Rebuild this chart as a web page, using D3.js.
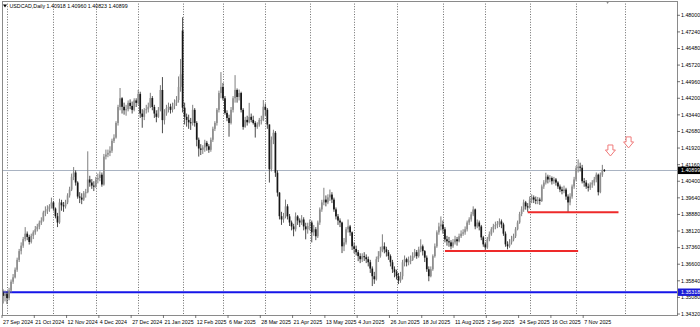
<!DOCTYPE html>
<html><head><meta charset="utf-8">
<script src="https://cdn.jsdelivr.net/npm/d3@7"></script>
<style>html,body{margin:0;padding:0;background:#fff;}svg{display:block;font-family:"Liberation Sans",Arial,sans-serif;}</style>
</head><body><svg id="c" width="700" height="327"></svg>
<script>
const symbol = "USDCAD,Daily";
const firstDate = "2024-09-27";
const holidays = ["2024-12-25", "2025-01-01"];

const open = [
1.3530,1.3515,1.3525,1.3505,1.3540,1.3580,1.3600,1.3635,1.3680,1.3720,
1.3745,1.3775,1.3800,1.3785,1.3762,1.3790,1.3806,1.3820,1.3832,1.3850,
1.3860,1.3897,1.3905,1.3912,1.3925,1.3943,1.3915,1.3880,1.3851,1.3943,
1.3930,1.3925,1.3943,1.3975,1.4002,1.4060,1.4080,1.4034,1.3970,1.3965,
1.3956,1.3985,1.3990,1.4048,1.4034,1.4020,1.4016,1.4048,1.4055,1.4070,
1.4025,1.4153,1.4162,1.4170,1.4180,1.4225,1.4240,1.4307,1.4380,1.4420,
1.4381,1.4365,1.4370,1.4399,1.4385,1.4367,1.4410,1.4399,1.4440,1.4350,
1.4335,1.4365,1.4370,1.4381,1.4421,1.4380,1.4350,1.4335,1.4367,1.4458,
1.4320,1.4350,1.4375,1.4381,1.4367,1.4385,1.4399,1.4412,1.4472,1.4730,
1.4377,1.4335,1.4321,1.4310,1.4307,1.4367,1.4307,1.4230,1.4190,1.4184,
1.4195,1.4216,1.4200,1.4184,1.4230,1.4280,1.4307,1.4367,1.4444,1.4472,
1.4420,1.4353,1.4330,1.4307,1.4367,1.4420,1.4458,1.4426,1.4444,1.4367,
1.4289,1.4321,1.4310,1.4335,1.4321,1.4307,1.4289,1.4300,1.4321,1.4321,
1.4381,1.4367,1.4300,1.4095,1.4230,1.4262,1.4079,1.3988,1.3880,1.3865,
1.3879,1.3925,1.3879,1.3851,1.3833,1.3820,1.3879,1.3860,1.3851,1.3865,
1.3833,1.3820,1.3835,1.3851,1.3806,1.3820,1.3788,1.3851,1.3911,1.3943,
1.3956,1.3943,1.3966,1.3979,1.3956,1.3911,1.3879,1.3860,1.3851,1.3742,
1.3760,1.3820,1.3833,1.3806,1.3742,1.3730,1.3715,1.3697,1.3683,1.3697,
1.3692,1.3683,1.3669,1.3640,1.3605,1.3591,1.3683,1.3697,1.3720,1.3742,
1.3728,1.3715,1.3697,1.3669,1.3637,1.3623,1.3605,1.3585,1.3605,1.3669,
1.3683,1.3669,1.3674,1.3680,1.3697,1.3715,1.3697,1.3728,1.3742,1.3720,
1.3690,1.3637,1.3605,1.3637,1.3697,1.3742,1.3806,1.3833,1.3842,1.3820,
1.3774,1.3765,1.3760,1.3742,1.3760,1.3774,1.3765,1.3788,1.3800,1.3806,
1.3820,1.3851,1.3865,1.3888,1.3911,1.3833,1.3851,1.3833,1.3783,1.3751,
1.3737,1.3774,1.3797,1.3820,1.3833,1.3840,1.3845,1.3856,1.3842,1.3800,
1.3751,1.3742,1.3760,1.3774,1.3788,1.3820,1.3851,1.3890,1.3911,1.3943,
1.3925,1.3920,1.3956,1.3966,1.3956,1.3950,1.3956,1.3950,1.4016,1.4034,
1.4061,1.4048,1.4055,1.4040,1.4048,1.4034,1.4016,1.4002,1.3995,1.4002,
1.3970,1.3943,1.3970,1.4016,1.4048,1.4100,1.4107,1.4102,1.4040,1.4034,
1.4016,1.4010,1.4025,1.4034,1.4048,1.4070,1.3990,1.4070,1.40918];

const high = [
1.3545,1.3540,1.3535,1.3552,1.3590,1.3615,1.3645,1.3690,1.3730,1.3760,
1.3785,1.3830,1.3810,1.3795,1.3800,1.3815,1.3835,1.3845,1.3860,1.3875,
1.3905,1.3925,1.3930,1.3935,1.3965,1.3950,1.3920,1.3895,1.3960,1.3955,
1.3945,1.3955,1.3985,1.4015,1.4075,1.4105,1.4090,1.4040,1.3990,1.3985,
1.3995,1.4005,1.4177,1.4065,1.4050,1.4040,1.4060,1.4075,1.4085,1.4080,
1.4165,1.4185,1.4185,1.4200,1.4235,1.4255,1.4315,1.4390,1.4467,1.4425,
1.4400,1.4390,1.4410,1.4415,1.4405,1.4420,1.4420,1.4458,1.4450,1.4370,
1.4375,1.4390,1.4400,1.4445,1.4430,1.4390,1.4365,1.4380,1.4480,1.4517,
1.4370,1.4390,1.4400,1.4395,1.4400,1.4415,1.4430,1.4520,1.4600,1.4791,
1.4400,1.4350,1.4345,1.4330,1.4390,1.4375,1.4315,1.4240,1.4210,1.4205,
1.4230,1.4225,1.4210,1.4240,1.4290,1.4315,1.4375,1.4455,1.4540,1.4490,
1.4430,1.4365,1.4345,1.4380,1.4430,1.4526,1.4465,1.4460,1.4450,1.4375,
1.4335,1.4340,1.4399,1.4350,1.4340,1.4315,1.4310,1.4330,1.4340,1.4412,
1.4395,1.4375,1.4300,1.4245,1.4276,1.4270,1.4090,1.3990,1.3900,1.3895,
1.3956,1.3935,1.3890,1.3860,1.3845,1.3897,1.3885,1.3870,1.3885,1.3875,
1.3850,1.3850,1.3865,1.3860,1.3840,1.3830,1.3860,1.3920,1.3955,1.4010,
1.3975,1.3980,1.4002,1.3990,1.3965,1.3920,1.3890,1.3870,1.3855,1.3780,
1.3830,1.3865,1.3840,1.3810,1.3760,1.3745,1.3725,1.3710,1.3710,1.3715,
1.3705,1.3695,1.3680,1.3650,1.3625,1.3695,1.3720,1.3740,1.3797,1.3760,
1.3740,1.3725,1.3705,1.3680,1.3650,1.3635,1.3620,1.3625,1.3680,1.3700,
1.3690,1.3695,1.3700,1.3715,1.3730,1.3725,1.3740,1.3774,1.3750,1.3725,
1.3700,1.3650,1.3650,1.3705,1.3755,1.3815,1.3850,1.3879,1.3860,1.3830,
1.3790,1.3785,1.3770,1.3775,1.3790,1.3785,1.3800,1.3815,1.3820,1.3833,
1.3860,1.3875,1.3900,1.3925,1.3915,1.3865,1.3860,1.3840,1.3790,1.3760,
1.3785,1.3810,1.3830,1.3845,1.3855,1.3858,1.3870,1.3865,1.3850,1.3810,
1.3765,1.3775,1.3790,1.3800,1.3830,1.3860,1.3900,1.3925,1.3956,1.3950,
1.3940,1.3970,1.3980,1.3975,1.3970,1.3968,1.3965,1.4025,1.4045,1.4079,
1.4070,1.4068,1.4062,1.4060,1.4055,1.4040,1.4025,1.4015,1.4020,1.4010,
1.3980,1.3985,1.4025,1.4060,1.4110,1.4140,1.4125,1.4115,1.4055,1.4045,
1.4030,1.4035,1.4045,1.4060,1.4080,1.4075,1.4080,1.4115,1.40960];

const low = [
1.3480,1.3490,1.3478,1.3495,1.3530,1.3570,1.3595,1.3625,1.3670,1.3705,
1.3735,1.3765,1.3770,1.3750,1.3755,1.3775,1.3795,1.3810,1.3820,1.3840,
1.3855,1.3880,1.3890,1.3900,1.3915,1.3905,1.3870,1.3830,1.3845,1.3905,
1.3900,1.3915,1.3935,1.3965,1.3995,1.4045,1.4020,1.3960,1.3940,1.3935,
1.3950,1.3965,1.3985,1.4015,1.4005,1.3995,1.4010,1.4030,1.4040,1.4015,
1.4020,1.4140,1.4150,1.4155,1.4170,1.4215,1.4235,1.4295,1.4365,1.4350,
1.4345,1.4340,1.4360,1.4370,1.4350,1.4360,1.4380,1.4390,1.4330,1.4285,
1.4320,1.4350,1.4355,1.4375,1.4365,1.4330,1.4310,1.4330,1.4360,1.4260,
1.4300,1.4340,1.4355,1.4350,1.4355,1.4370,1.4385,1.4400,1.4450,1.4355,
1.4300,1.4290,1.4280,1.4275,1.4295,1.4290,1.4200,1.4153,1.4160,1.4165,
1.4175,1.4180,1.4170,1.4175,1.4220,1.4270,1.4295,1.4355,1.4420,1.4410,
1.4345,1.4315,1.4244,1.4300,1.4355,1.4400,1.4400,1.4410,1.4355,1.4276,
1.4285,1.4295,1.4305,1.4310,1.4300,1.4240,1.4280,1.4290,1.4300,1.4315,
1.4340,1.4280,1.4034,1.4085,1.4210,1.4060,1.3970,1.3865,1.3840,1.3850,
1.3870,1.3865,1.3835,1.3815,1.3788,1.3810,1.3840,1.3830,1.3840,1.3815,
1.3774,1.3800,1.3815,1.3760,1.3790,1.3770,1.3780,1.3840,1.3900,1.3930,
1.3925,1.3935,1.3950,1.3940,1.3900,1.3865,1.3840,1.3830,1.3711,1.3720,
1.3750,1.3805,1.3790,1.3725,1.3710,1.3700,1.3674,1.3665,1.3670,1.3675,
1.3665,1.3650,1.3620,1.3560,1.3570,1.3585,1.3670,1.3690,1.3715,1.3710,
1.3695,1.3680,1.3650,1.3620,1.3600,1.3590,1.3569,1.3575,1.3590,1.3650,
1.3650,1.3655,1.3660,1.3675,1.3690,1.3685,1.3690,1.3715,1.3700,1.3670,
1.3625,1.3582,1.3600,1.3630,1.3690,1.3735,1.3795,1.3815,1.3800,1.3760,
1.3745,1.3740,1.3728,1.3735,1.3750,1.3745,1.3760,1.3780,1.3790,1.3795,
1.3810,1.3840,1.3855,1.3880,1.3820,1.3825,1.3815,1.3770,1.3740,1.3724,
1.3730,1.3765,1.3790,1.3805,1.3820,1.3825,1.3830,1.3825,1.3790,1.3740,
1.3728,1.3735,1.3750,1.3765,1.3780,1.3815,1.3845,1.3880,1.3900,1.3910,
1.3900,1.3915,1.3940,1.3940,1.3935,1.3935,1.3932,1.3945,1.4005,1.4025,
1.4030,1.4035,1.4025,1.4028,1.4020,1.4005,1.3990,1.3980,1.3985,1.3955,
1.3897,1.3930,1.3960,1.4005,1.4040,1.4080,1.4085,1.4030,1.4015,1.4005,
1.3993,1.4000,1.4010,1.4020,1.4035,1.3975,1.3985,1.4060,1.40823];

const close = [
1.3515,1.3525,1.3505,1.3540,1.3580,1.3600,1.3635,1.3680,1.3720,1.3745,
1.3775,1.3800,1.3785,1.3762,1.3790,1.3806,1.3820,1.3832,1.3850,1.3860,
1.3897,1.3905,1.3912,1.3925,1.3943,1.3915,1.3880,1.3851,1.3943,1.3930,
1.3925,1.3943,1.3975,1.4002,1.4060,1.4080,1.4034,1.3970,1.3965,1.3956,
1.3985,1.3990,1.4048,1.4034,1.4020,1.4016,1.4048,1.4055,1.4070,1.4025,
1.4153,1.4162,1.4170,1.4180,1.4225,1.4240,1.4307,1.4380,1.4420,1.4381,
1.4365,1.4370,1.4399,1.4385,1.4367,1.4410,1.4399,1.4440,1.4350,1.4335,
1.4365,1.4370,1.4381,1.4421,1.4380,1.4350,1.4335,1.4367,1.4458,1.4320,
1.4350,1.4375,1.4381,1.4367,1.4385,1.4399,1.4412,1.4472,1.4530,1.4377,
1.4335,1.4321,1.4310,1.4307,1.4367,1.4307,1.4230,1.4190,1.4184,1.4195,
1.4216,1.4200,1.4184,1.4230,1.4280,1.4307,1.4367,1.4444,1.4472,1.4420,
1.4353,1.4330,1.4307,1.4367,1.4420,1.4458,1.4426,1.4444,1.4367,1.4289,
1.4321,1.4310,1.4335,1.4321,1.4307,1.4289,1.4300,1.4321,1.4321,1.4381,
1.4367,1.4300,1.4095,1.4230,1.4262,1.4079,1.3988,1.3880,1.3865,1.3879,
1.3925,1.3879,1.3851,1.3833,1.3820,1.3879,1.3860,1.3851,1.3865,1.3833,
1.3820,1.3835,1.3851,1.3806,1.3820,1.3788,1.3851,1.3911,1.3943,1.3956,
1.3943,1.3966,1.3979,1.3956,1.3911,1.3879,1.3860,1.3851,1.3742,1.3760,
1.3820,1.3833,1.3806,1.3742,1.3730,1.3715,1.3697,1.3683,1.3697,1.3692,
1.3683,1.3669,1.3640,1.3605,1.3591,1.3683,1.3697,1.3720,1.3742,1.3728,
1.3715,1.3697,1.3669,1.3637,1.3623,1.3605,1.3585,1.3605,1.3669,1.3683,
1.3669,1.3674,1.3680,1.3697,1.3715,1.3697,1.3728,1.3742,1.3720,1.3690,
1.3637,1.3605,1.3637,1.3697,1.3742,1.3806,1.3833,1.3842,1.3820,1.3774,
1.3765,1.3760,1.3742,1.3760,1.3774,1.3765,1.3788,1.3800,1.3806,1.3820,
1.3851,1.3865,1.3888,1.3911,1.3833,1.3851,1.3833,1.3783,1.3751,1.3737,
1.3774,1.3797,1.3820,1.3833,1.3840,1.3845,1.3856,1.3842,1.3800,1.3751,
1.3742,1.3760,1.3774,1.3788,1.3820,1.3851,1.3890,1.3911,1.3943,1.3925,
1.3920,1.3956,1.3966,1.3956,1.3950,1.3956,1.3950,1.4016,1.4034,1.4061,
1.4048,1.4055,1.4040,1.4048,1.4034,1.4016,1.4002,1.3995,1.4002,1.3970,
1.3943,1.3970,1.4016,1.4048,1.4100,1.4107,1.4102,1.4040,1.4034,1.4016,
1.4010,1.4025,1.4034,1.4048,1.4070,1.3990,1.4070,1.4092,1.40899];

const priceTickLabels = ["1.48000","1.47240","1.46480","1.45720","1.44960","1.44200","1.43440","1.42680","1.41920","1.41160","1.40400","1.39640","1.38880","1.38120","1.37360","1.36600","1.35840","1.35080","1.34320"];
const dateTickLabels = ["27 Sep 2024","21 Oct 2024","12 Nov 2024","4 Dec 2024","27 Dec 2024","21 Jan 2025","12 Feb 2025","6 Mar 2025","28 Mar 2025","21 Apr 2025","13 May 2025","4 Jun 2025","26 Jun 2025","18 Jul 2025","11 Aug 2025","2 Sep 2025","24 Sep 2025","16 Oct 2025","7 Nov 2025"];
const bidPrice = 1.40899;
const horizontalLevel = 1.35318;
const trendFrom = ["2025-09-30", "2025-08-04"];
const trendTo = ["2025-11-28", "2025-11-04"];
const trendPrice = [1.3898, 1.3721];
const arrowDates = ["2025-11-24", "2025-12-03"];
const arrowPrices = [1.4206, 1.4243];

// ---- trading dates (categories)
const parse = d3.utcParse("%Y-%m-%d");
const fmtKey = d3.utcFormat("%Y-%m-%d");
const fmtLabel = d3.utcFormat("%-d %b %Y");
const dates = [];
{
  let d = parse(firstDate);
  while (dates.length < close.length) {
    const wd = d.getUTCDay();
    if (wd !== 0 && wd !== 6 && !holidays.includes(fmtKey(d))) dates.push(new Date(d));
    d = d3.utcDay.offset(d, 1);
  }
}
const keyIndex = new Map(dates.map((d, i) => [fmtKey(d), i]));
const lastIdx = dates.length - 1;
function idxOf(s) {
  if (keyIndex.has(s)) return keyIndex.get(s);
  const d = parse(s);
  return lastIdx + d3.utcDay.count(dates[lastIdx], d);
}

const svg = d3.select("#c");
const W = 700, H = 327;
const plotL = 2, plotR = 677, plotT = 1, plotB = 315;

const x = d3.scaleLinear().domain([0, lastIdx]).range([3, 3 + 2.018 * lastIdx]);
const y = d3.scaleLinear().domain([1.3432, 1.48]).range([314, 15.3]);

svg.append("defs").append("clipPath").attr("id", "clip")
  .append("rect").attr("x", plotL).attr("y", plotT).attr("width", plotR - plotL).attr("height", plotB - plotT);
const plot = svg.append("g").attr("clip-path", "url(#clip)");

// vertical dotted grid at month starts
const gridIdx = [];
for (let i = 1; i < dates.length; i++) {
  if (dates[i].getUTCMonth() !== dates[i - 1].getUTCMonth()) gridIdx.push(i);
}
{
  let m = d3.utcMonth.ceil(d3.utcDay.offset(dates[lastIdx], 1));
  while (x(idxOf(fmtKey(m))) < plotR) { gridIdx.push(idxOf(fmtKey(m))); m = d3.utcMonth.offset(m, 1); }
}
plot.selectAll("line.grid").data(gridIdx).join("line").attr("class", "grid")
  .attr("x1", d => Math.round(x(d)) + 0.5).attr("x2", d => Math.round(x(d)) + 0.5)
  .attr("y1", plotT).attr("y2", plotB)
  .attr("stroke", "#6e6e6e").attr("stroke-width", 1).attr("stroke-dasharray", "1,1.6");

// horizontal level (blue)
plot.append("line").attr("x1", plotL).attr("x2", plotR)
  .attr("y1", y(horizontalLevel)).attr("y2", y(horizontalLevel))
  .attr("stroke", "#1515e8").attr("stroke-width", 2);

// bid line
plot.append("line").attr("x1", plotL).attr("x2", plotR)
  .attr("y1", Math.round(y(bidPrice)) + 0.5).attr("y2", Math.round(y(bidPrice)) + 0.5)
  .attr("stroke", "#a9b3c2").attr("stroke-width", 1);

// candles
const bars = d3.range(close.length);
const cg = plot.append("g");
cg.selectAll("line.wick").data(bars).join("line").attr("class", "wick")
  .attr("x1", i => x(i)).attr("x2", i => x(i))
  .attr("y1", i => y(Math.max(high[i], open[i], close[i])))
  .attr("y2", i => y(Math.min(low[i], open[i], close[i])))
  .attr("stroke", i => close[i] >= open[i] ? "#7f7f7f" : "#4a4a4a")
  .attr("stroke-width", 1);
cg.selectAll("rect.body").data(bars).join("rect").attr("class", "body")
  .attr("x", i => x(i) - 0.85).attr("width", 1.7)
  .attr("y", i => y(Math.max(open[i], close[i])))
  .attr("height", i => Math.max(1, Math.abs(y(open[i]) - y(close[i]))))
  .attr("fill", i => close[i] >= open[i] ? "#8e8e8e" : "#161616");

// red trend lines
plot.selectAll("line.trend").data(trendPrice).join("line").attr("class", "trend")
  .attr("x1", (p, k) => x(idxOf(trendFrom[k]))).attr("x2", (p, k) => x(idxOf(trendTo[k])))
  .attr("y1", p => y(p)).attr("y2", p => y(p))
  .attr("stroke", "#ee2a2a").attr("stroke-width", 2);

// arrows (hollow down arrows)
const arrowPath = "M-2.5,0 L2.5,0 L2.5,5 L5,5 L0,11 L-5,5 L-2.5,5 Z";
plot.selectAll("path.arrow").data(arrowPrices).join("path").attr("class", "arrow")
  .attr("transform", (p, k) => `translate(${x(idxOf(arrowDates[k]))},${y(p)})`)
  .attr("d", arrowPath).attr("fill", "#fff").attr("stroke", "#f07a7a").attr("stroke-width", 1);

// frame
svg.append("rect").attr("x", plotL + 0.5).attr("y", plotT + 0.5)
  .attr("width", plotR - plotL).attr("height", plotB - plotT)
  .attr("fill", "none").attr("stroke", "#8a8a8a").attr("stroke-width", 1);

// chart shift marker
svg.append("path").attr("d", `M${x(lastIdx) + 1.5},1 l3.5,0 l-1.75,3 z`).attr("fill", "#8a8a8a");

// right price axis
const fs = 5.3;
const ax = svg.append("g").attr("font-size", fs).attr("fill", "#000");
priceTickLabels.forEach(t => {
  const v = +t, yy = y(v);
  ax.append("line").attr("x1", plotR).attr("x2", plotR + 3).attr("y1", yy).attr("y2", yy).attr("stroke", "#555").attr("stroke-width", 0.8);
  ax.append("text").attr("x", plotR + 4).attr("y", yy).attr("dy", "0.35em").text(t);
});
ax.append("rect").attr("x", plotR + 1).attr("y", y(bidPrice) - 3.7).attr("width", W - plotR - 1).attr("height", 7.4).attr("fill", "#000");
ax.append("text").attr("x", plotR + 4).attr("y", y(bidPrice)).attr("dy", "0.35em").attr("fill", "#fff").text(d3.format(".5f")(bidPrice));
ax.append("rect").attr("x", plotR + 1).attr("y", y(horizontalLevel) - 3.7).attr("width", W - plotR - 1).attr("height", 7.4).attr("fill", "#1a1ad6");
ax.append("text").attr("x", plotR + 4).attr("y", y(horizontalLevel)).attr("dy", "0.35em").attr("fill", "#fff").text(d3.format(".5f")(horizontalLevel));

// bottom date axis
const dx = svg.append("g").attr("font-size", fs).attr("fill", "#000");
dateTickLabels.forEach(lbl => {
  const i = dates.findIndex(d => fmtLabel(d) === lbl);
  if (i < 0) return;
  const xx = x(i);
  dx.append("line").attr("x1", xx - 1).attr("x2", xx - 1).attr("y1", plotB).attr("y2", plotB + 3).attr("stroke", "#555").attr("stroke-width", 0.8);
  dx.append("text").attr("x", xx).attr("y", 324).text(lbl);
});

// header
const f5 = d3.format(".5f");
svg.append("path").attr("d", "M3,4.5 L7,4.5 L5,7.5 Z").attr("fill", "#000");
svg.append("text").attr("x", 9.5).attr("y", 8.3).attr("font-size", fs).attr("fill", "#000")
  .text(`${symbol} ${f5(open[lastIdx])} ${f5(high[lastIdx])} ${f5(low[lastIdx])} ${f5(close[lastIdx])}`);
</script></body></html>
